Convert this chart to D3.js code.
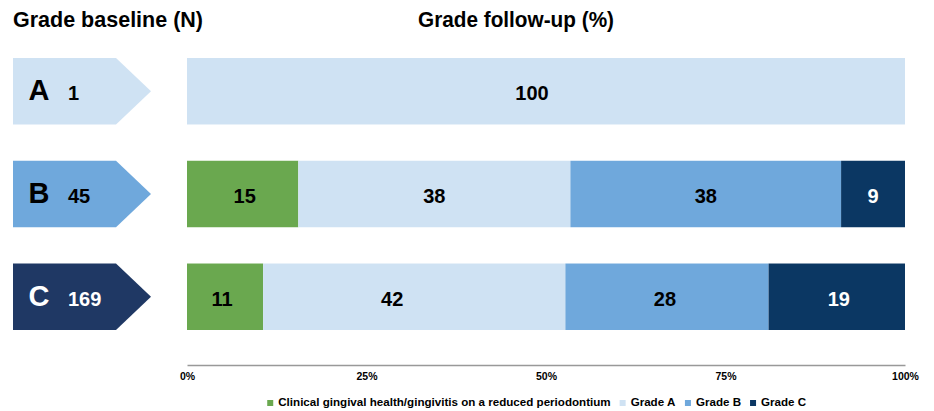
<!DOCTYPE html>
<html><head><meta charset="utf-8">
<script src="https://cdn.jsdelivr.net/npm/d3@7"></script>
<style>body{margin:0;background:#fff}svg{display:block}</style>
</head><body>
<script>
const baselineGrades = ["A", "B", "C"];
const baselineN = [1, 45, 169];
const followupSeries = ["Clinical gingival health/gingivitis on a reduced periodontium", "Grade A", "Grade B", "Grade C"];
const valuesA = [0, 100, 0, 0];
const valuesB = [15.5, 37.9, 37.7, 8.9];
const valuesC = [10.6, 42.1, 28.3, 19.0];
const labelsA = ["", "100", "", ""];
const labelsB = ["15", "38", "38", "9"];
const labelsC = ["11", "42", "28", "19"];
const tickValues = [0, 25, 50, 75, 100];
const tickLabels = ["0%", "25%", "50%", "75%", "100%"];

// ---- styling ----
const seriesColors = ["#6aa84f", "#cfe2f3", "#6fa8dc", "#0b3763"];
const labelColors = ["#000", "#000", "#000", "#fff"];
const arrowColors = ["#cfe2f3", "#6fa8dc", "#1f3864"];
const arrowText = ["#000", "#000", "#fff"];
// manual label nudges (px) as in the original figure, keyed "row-series"
const labelNudge = { "0-1": -14, "1-0": 2, "2-0": -3, "2-1": -22, "2-2": -2, "2-3": 2 };

const W = 934, H = 411;
const svg = d3.select("body").append("svg").attr("width", W).attr("height", H);
const sans = "'Liberation Sans',Arial,sans-serif";

const x = d3.scaleLinear().domain([0, 100]).range([187, 905]);
const y = d3.scaleBand().domain(baselineGrades).range([58, 330]).paddingInner(0.353).paddingOuter(0);

svg.append("text").attr("x", 13).attr("y", 27).attr("font-family", sans).attr("font-weight", "bold")
  .attr("font-size", 21.5).attr("textLength", 190).attr("lengthAdjust", "spacingAndGlyphs").text("Grade baseline (N)");
svg.append("text").attr("x", 418).attr("y", 27).attr("font-family", sans).attr("font-weight", "bold")
  .attr("font-size", 21.5).attr("textLength", 196).attr("lengthAdjust", "spacingAndGlyphs").text("Grade follow-up (%)");

const rows = [valuesA, valuesB, valuesC];
const rowLabels = [labelsA, labelsB, labelsC];

baselineGrades.forEach((g, i) => {
  const y0 = y(g), h = y.bandwidth();
  const xl = 13, xf = 116, xt = 151;
  svg.append("path")
    .attr("d", `M${xl},${y0}L${xf},${y0}L${xt},${y0 + h / 2}L${xf},${y0 + h}L${xl},${y0 + h}Z`)
    .attr("fill", arrowColors[i]);
  svg.append("text").attr("x", 39).attr("y", y0 + h / 2 + 9).attr("text-anchor", "middle")
    .attr("font-family", sans).attr("font-weight", "bold").attr("font-size", 29)
    .attr("fill", arrowText[i]).text(g);
  svg.append("text").attr("x", 68).attr("y", y0 + h / 2 + 9)
    .attr("font-family", sans).attr("font-weight", "bold").attr("font-size", 20)
    .attr("fill", arrowText[i]).text(baselineN[i]);
  let cum = 0;
  const segs = rows[i].map((v, k) => { const s = { k, x0: cum, x1: cum + v, label: rowLabels[i][k] }; cum += v; return s; });
  const gRow = svg.append("g");
  gRow.selectAll("rect").data(segs.filter(s => s.x1 > s.x0)).join("rect")
    .attr("x", s => x(s.x0)).attr("width", s => x(s.x1) - x(s.x0))
    .attr("y", y0).attr("height", h).attr("fill", s => seriesColors[s.k]);
  gRow.selectAll("text").data(segs.filter(s => s.label !== "")).join("text")
    .attr("x", s => (x(s.x0) + x(s.x1)) / 2 + (labelNudge[i + "-" + s.k] || 0)).attr("y", y0 + h / 2 + 9)
    .attr("text-anchor", "middle").attr("font-family", sans).attr("font-weight", "bold").attr("font-size", 20)
    .attr("fill", s => labelColors[s.k]).text(s => s.label);
});

const axis = d3.axisBottom(x).tickValues(tickValues).tickSize(0).tickPadding(7.5)
  .tickFormat((d, i) => tickLabels[i]);
const ax = svg.append("g").attr("transform", "translate(0,365)").call(axis);
ax.select(".domain").attr("stroke", "#999").attr("stroke-width", 1.5);
ax.selectAll("text").attr("font-family", sans).attr("font-weight", "bold").attr("font-size", 10.5).attr("fill", "#000");

const leg = svg.append("g");
let lx = 0;
const items = leg.selectAll("g").data(followupSeries).join("g");
items.append("rect").attr("width", 6).attr("height", 6).attr("y", -6).attr("fill", (d, i) => seriesColors[i]);
items.append("text").attr("x", 11).attr("y", 0).attr("font-family", sans).attr("font-weight", "bold").attr("font-size", 11.6).text(d => d);
items.each(function () {
  const bb = this.getBBox();
  d3.select(this).attr("transform", `translate(${lx},0)`);
  lx += bb.width + 9;
});
leg.attr("transform", `translate(${537 - (lx - 9) / 2},406)`);
</script>
</body></html>
